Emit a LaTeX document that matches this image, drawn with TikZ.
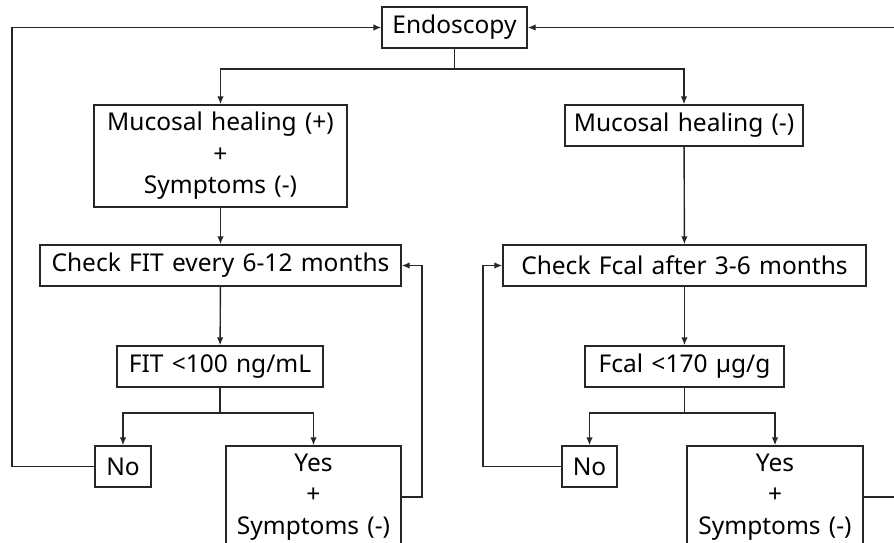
\documentclass[tikz,border=0pt]{standalone}
\usepackage{fontspec}
\setmainfont[WordSpace=1.3]{Noto Sans}
\usetikzlibrary{arrows.meta}

\begin{document}
\begin{tikzpicture}[x=1pt, y=-1pt,
    box/.style={draw=black!85, line width=1.4pt, inner sep=0pt, minimum height=41pt, align=center,
        font=\fontsize{24.5}{31.5}\selectfont},
    wire/.style={draw=black!85, line width=1.4pt},
    arr/.style={wire, -{Latex[length=8pt, width=6.5pt]}}]
    	\useasboundingbox (0, 0) rectangle (894, 543);
    	\clip (0, 0) rectangle (894, 543);
    	% Boxes:
    	\node[box, minimum width=145pt] (endo) at (454.5, 27.5) {Endoscopy};
    	\node[box, minimum width=253pt, minimum height=102pt] (mhpos) at (220.5, 156) {Mucosal healing (+)\\+\\Symptoms (-)};
    	\node[box, minimum width=238pt] (mhneg) at (684, 125.5) {Mucosal healing (-)};
    	\node[box, minimum width=361pt] (fit) at (220.5, 265.5) {Check FIT every 6-12 months};
    	\node[box, minimum width=363pt] (fcal) at (684.5, 265.5) {Check Fcal after 3-6 months};
    	\node[box, minimum width=206pt] (fitlow) at (220, 366.5) {FIT <100 ng/mL};
    	\node[box, minimum width=199pt] (fcallow) at (684.5, 366.5) {Fcal <170 µg/g};
    	\node[box, minimum width=56pt] (noA) at (123, 466.5) {No};
    	\node[box, minimum width=175pt, minimum height=102pt] (yesA) at (313.5, 497) {Yes\\+\\Symptoms (-)};
    	\node[box, minimum width=55pt] (noB) at (589.5, 466.5) {No};
    	\node[box, minimum width=176pt, minimum height=102pt] (yesB) at (775, 497) {Yes\\+\\Symptoms (-)};
    	% Split points and loop corners:
    	\coordinate (s0) at (454.5, 69);
    	\coordinate (s1) at (220, 413);
    	\coordinate (s2) at (684.5, 413);
    	\coordinate (c1) at (12, 466.5);
    	\coordinate (c2) at (422, 497);
    	\coordinate (c3) at (483, 466.5);
    	\coordinate (c4) at (910, 497);
    	% Connectors:
    	\draw[wire] (endo) -- (s0);
    	\draw[arr] (s0) -| (mhpos);
    	\draw[arr] (s0) -| (mhneg);
    	\draw[arr] (mhpos) -- (fit);
    	\draw[arr] (mhneg) -- (fcal);
    	\draw[arr] (fit) -- (fitlow);
    	\draw[arr] (fcal) -- (fcallow);
    	\draw[wire] (fitlow) -- (s1);
    	\draw[arr] (s1) -| (noA);
    	\draw[arr] (s1) -| (yesA);
    	\draw[wire] (fcallow) -- (s2);
    	\draw[arr] (s2) -| (noB);
    	\draw[arr] (s2) -| (yesB);
    	\draw[arr] (noA) -- (c1) |- (endo);
    	\draw[arr] (yesA) -- (c2) |- (fit);
    	\draw[arr] (noB) -- (c3) |- (fcal);
    	\draw[arr] (yesB) -- (c4) |- (endo);
\end{tikzpicture}
\end{document}
